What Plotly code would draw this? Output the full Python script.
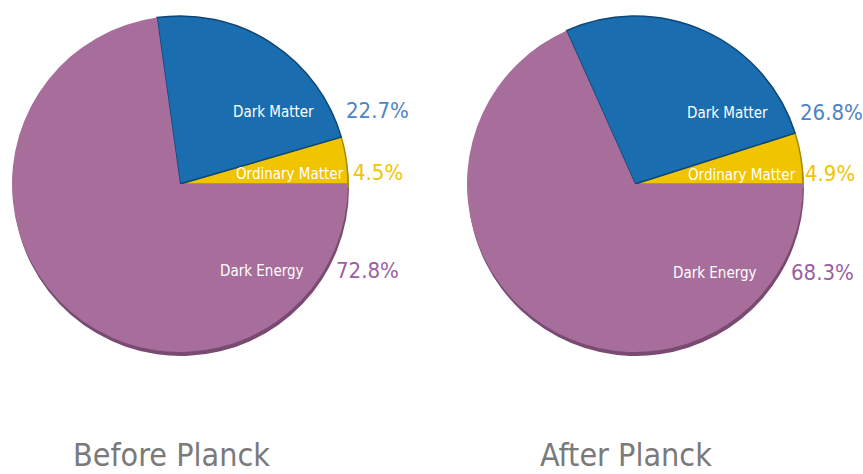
import plotly.graph_objects as go

W, H = 863, 474

components = ["Ordinary Matter", "Dark Matter", "Dark Energy"]
before_values = [4.5, 22.7, 72.8]
after_values = [4.9, 26.8, 68.3]
titles = ["Before Planck", "After Planck"]

colors = ["#f1c400", "#1a6dae", "#a76e9b"]
shadow_colors = ["#a88a00", "#0e4677", "#7a4b72"]
pct_colors = ["#f1c400", "#4f84c4", "#9a5fa0"]

def px(x):
    return x / W

def py(y):
    return 1 - y / H

fig = go.Figure()

# pie boxes in screen pixels: (left, top, size)
boxes = [(12, 16, 336), (467, 16, 336)]
datasets = [before_values, after_values]

for (l, t, s), vals in zip(boxes, datasets):
    # counterclockwise pies in plotly end their first slice at `rotation`,
    # so shift by the first slice so it starts at 3 o'clock
    rot = 90 - 360 * vals[0] / sum(vals)
    fig.add_trace(go.Pie(
        labels=components, values=vals, sort=False, direction="counterclockwise",
        rotation=rot, marker=dict(colors=shadow_colors, line=dict(width=0)),
        textinfo="none", hoverinfo="skip", showlegend=False,
        domain=dict(x=[px(l + 1), px(l + 1 + s)], y=[py(t + 4 + s), py(t + 4)]),
    ))
    fig.add_trace(go.Pie(
        labels=components, values=vals, sort=False, direction="counterclockwise",
        rotation=rot,
        marker=dict(colors=colors, line=dict(color=["#a88a00", "#0e4677", "#0e4677"], width=[1.5, 1.5, 0])),
        textinfo="none", showlegend=False,
        domain=dict(x=[px(l), px(l + s)], y=[py(t + s), py(t)]),
    ))

label_pos = [
    [(290, 174), (273, 112), (262, 271)],
    [(742, 175), (727, 113), (715, 273)],
]
pct_pos = [
    [(378, 172), (377, 110), (367, 270)],
    [(830, 173), (831, 112), (822, 272)],
]
title_pos = [(171, 455), (626, 455)]

font_family = "DejaVu Sans Condensed, Liberation Sans Narrow, Noto Sans"

annotations = []
for k, vals in enumerate(datasets):
    for i, name in enumerate(components):
        x, y = label_pos[k][i]
        annotations.append(dict(x=px(x), y=py(y), xref="paper", yref="paper",
                                xanchor="center", yanchor="middle",
                                text=name, showarrow=False,
                                font=dict(family=font_family, size=15, color="white")))
        x, y = pct_pos[k][i]
        annotations.append(dict(x=px(x), y=py(y), xref="paper", yref="paper",
                                xanchor="center", yanchor="middle",
                                text=f"{vals[i]:.1f}%", showarrow=False,
                                font=dict(family=font_family, size=22, color=pct_colors[i])))
    x, y = title_pos[k]
    annotations.append(dict(x=px(x), y=py(y), xref="paper", yref="paper",
                            xanchor="center", yanchor="middle",
                            text=titles[k], showarrow=False,
                            font=dict(family=font_family, size=32, color="#7a7a7a")))

fig.update_layout(
    width=W, height=H,
    margin=dict(l=0, r=0, t=0, b=0),
    paper_bgcolor="white", plot_bgcolor="white",
    annotations=annotations,
)

fig.write_html(
    "out.html",
    config={"displayModeBar": False},
    post_script="document.body.style.margin='0';document.body.style.overflow='hidden';",
)
